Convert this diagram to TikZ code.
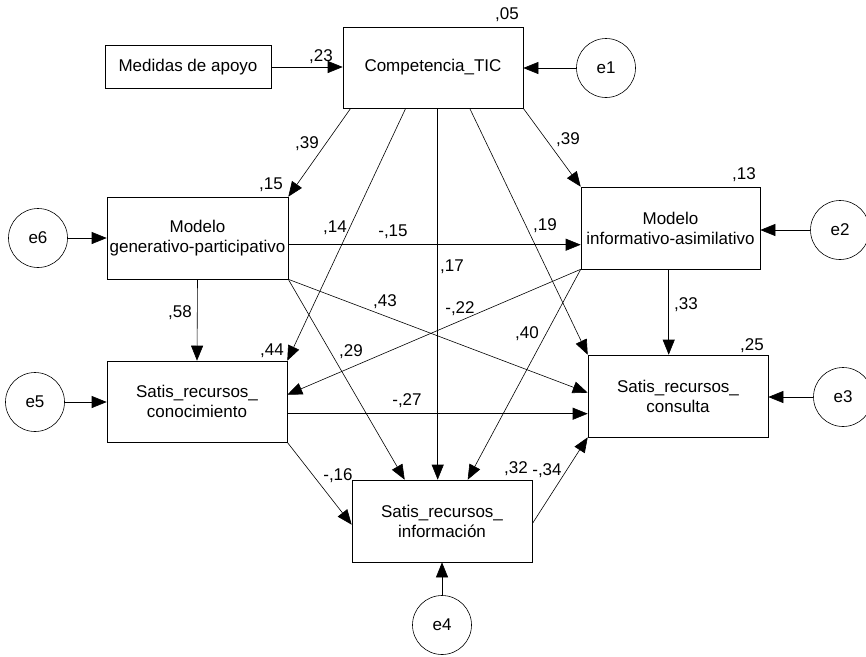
\documentclass[tikz,border=0pt]{standalone}
\usepackage{fontspec}
\setmainfont{Liberation Sans}
\usetikzlibrary{arrows.meta,calc}

\tikzset{
  varbox/.style={draw, rectangle, line width=0.6pt, minimum width=180pt, minimum height=82pt,
    inner sep=0pt, align=center, font=\fontsize{17}{20}\selectfont},
  errcirc/.style={draw, circle, line width=0.6pt, minimum size=59pt, inner sep=0pt,
    font=\fontsize{17}{20}\selectfont},
  coef/.style={inner sep=0.75pt, font=\fontsize{17}{20}\selectfont},
  regarrow/.style={-{Triangle[length=15pt,width=12pt]}, line width=0.6pt},
}

\begin{document}
\begin{tikzpicture}[x=1pt,y=1pt,yscale=-1,xscale=1]
    \useasboundingbox (0,0) rectangle (866,656);

    % Variables
    \node[varbox, minimum width=166pt, minimum height=43pt] (medidas) at (188,67) {Medidas de apoyo};
    \node[varbox, minimum height=81pt] (comp) at (433,67.5) {Competencia\_TIC};
    \node[varbox, minimum width=181pt] (gen) at (197.5,238) {Modelo\\generativo-participativo};
    \node[varbox, minimum width=179pt] (inf) at (670.5,228) {Modelo\\informativo-asimilativo};
    \node[varbox, minimum height=81pt] (con) at (197,401.5) {Satis\_recursos\_\\conocimiento};
    \node[varbox] (cons) at (678,396) {Satis\_recursos\_\\consulta};
    \node[varbox] (info) at (442,521) {Satis\_recursos\_\\información};

    % Errors
    \node[errcirc] (e1) at (606,68) {e1};
    \node[errcirc] (e2) at (840,230) {e2};
    \node[errcirc] (e3) at (843,397) {e3};
    \node[errcirc] (e4) at (442,625) {e4};
    \node[errcirc] (e5) at (35,402) {e5};
    \node[errcirc] (e6) at (38,238) {e6};

    % Error arrows
    \draw[regarrow] (e1.west) -- (e1.west -| comp.east);
    \draw[regarrow] (e2.west) -- (e2.west -| inf.east);
    \draw[regarrow] (e3.west) -- (e3.west -| cons.east);
    \draw[regarrow] (e4.north) -- (e4.north |- info.south);
    \draw[regarrow] (e5.east) -- (e5.east -| con.west);
    \draw[regarrow] (e6.east) -- (e6.east -| gen.west);

    % Paths
    \draw[regarrow] (medidas.east) -- (medidas.east -| comp.west);
    \draw[regarrow] ($(comp.south west)+(8,0)$) -- (gen.north east);
    \draw[regarrow] (comp.south east) -- (inf.north west);
    \draw[regarrow] ($(comp.south west)+(63,0)$) -- (con.north east);
    \draw[regarrow] ($(comp.south west)+(95,0)$) -- ($(info.north west)+(86,0)$);
    \draw[regarrow] ($(comp.south west)+(127,0)$) -- (cons.north west);
    \draw[regarrow] ($(gen.north east)+(0,48)$) -- ($(inf.north west)+(0,58)$);
    \draw[regarrow] (gen.south east) -- ($(cons.north west)+(0,38)$);
    \draw[regarrow] (gen.south east) -- ($(info.north west)+(53,0)$);
    \draw[regarrow] (gen.south) -- (con.north);
    \draw[regarrow] (inf.south west) -- ($(con.north east)+(0,34)$);
    \draw[regarrow] (inf.south west) -- ($(info.north west)+(116,0)$);
    \draw[regarrow] ($(inf.south west)+(88,0)$) -- ($(cons.north west)+(81,0)$);
    \draw[regarrow] ($(con.north east)+(0,53)$) -- ($(cons.north west)+(0,59)$);
    \draw[regarrow] (con.south east) -- ($(info.north west)+(0,45)$);
    \draw[regarrow] ($(info.north east)+(0,44)$) -- (cons.south west);

    % Coefficients
    \node[coef] (b23) at (321,57) {,23};
    \node[coef] (b39a) at (307,144) {,39};
    \node[coef] (b39b) at (568,140) {,39};
    \node[coef] (b14) at (335,228) {,14};
    \node[coef] (b17) at (452,267) {,17};
    \node[coef] (b19) at (545,226) {,19};
    \node[coef] (b15) at (393,232) {-,15};
    \node[coef] (b43) at (385,302) {,43};
    \node[coef] (b29) at (351,352) {,29};
    \node[coef] (b58) at (180,313) {,58};
    \node[coef] (b22) at (460,309) {-,22};
    \node[coef] (b40) at (527,334) {,40};
    \node[coef] (b33) at (686,305) {,33};
    \node[coef] (b27) at (407,401) {-,27};
    \node[coef] (b16) at (338,476) {-,16};
    \node[coef] (b34) at (547,471) {-,34};

    % Squared multiple correlations
    \node[coef] (r05) at (507,15) {,05};
    \node[coef] (r15) at (271,185) {,15};
    \node[coef] (r13) at (744,175) {,13};
    \node[coef] (r44) at (272,351) {,44};
    \node[coef] (r25) at (752,346) {,25};
    \node[coef] (r32) at (516,469) {,32};
\end{tikzpicture}
\end{document}
